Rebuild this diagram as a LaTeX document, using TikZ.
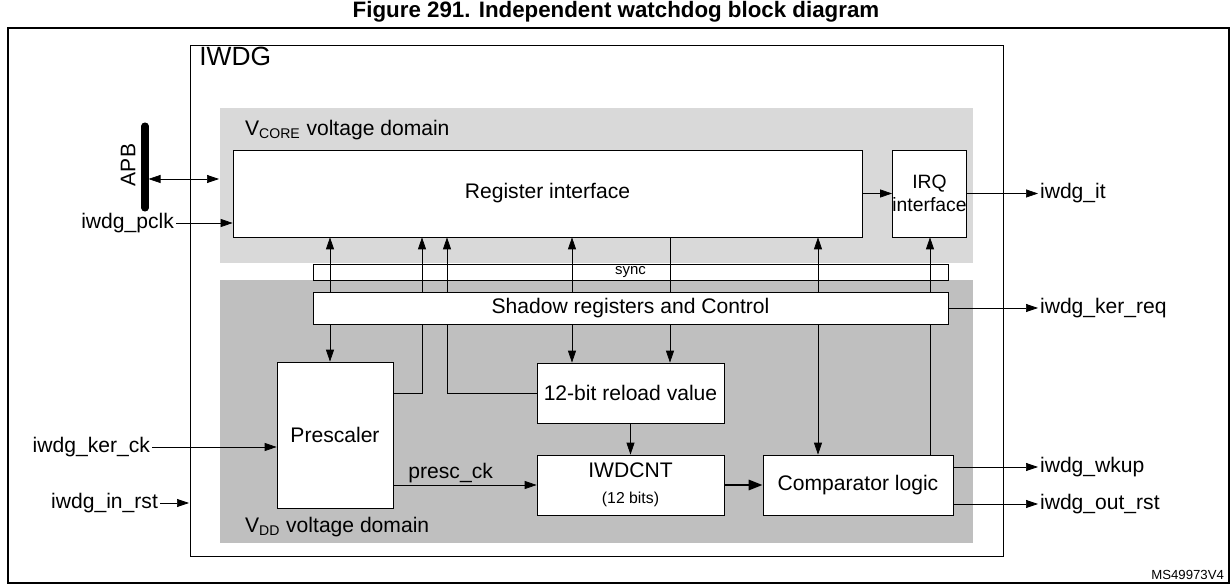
\documentclass[tikz,border=0pt]{standalone}
\usepackage{fontspec}
\setmainfont{Liberation Sans}
\setsansfont{Liberation Sans}
\usetikzlibrary{arrows.meta, positioning, calc}

\tikzset{
  blk/.style 2 args={draw, fill=white, minimum width=#1*0.02cm, minimum height=#2*0.02cm, inner sep=0pt, align=center},
  sig/.style={-{Triangle[length=0.24cm, width=0.16cm]}},
  lbl/.style={inner sep=1pt, font=\fontsize{12}{14}\selectfont},
}

\begin{document}
\begin{tikzpicture}[x=0.02cm, y=-0.02cm, font=\fontsize{12}{14}\selectfont]
  \useasboundingbox (0,0) rectangle (1232,584);

  % title and frames
  \node[font=\bfseries\fontsize{12.7}{14}\selectfont] (title) at (616,12) {Figure 291. Independent watchdog block diagram};
  \draw[line width=0.8pt] (8,28) rectangle (1229,583);
  \draw (190,45) rectangle (1003,556);
  \node[anchor=north west, inner sep=0pt, font=\fontsize{15}{17}\selectfont] (iwdg) at (199,47) {IWDG};
  \node[anchor=south east, inner sep=1pt, font=\fontsize{7.5}{9}\selectfont] (ms) at (1226,582) {MS49973V4};

  % voltage domains
  \fill[gray!30] (220,108) rectangle (973,263);
  \fill[gray!50] (220,280) rectangle (973,543);
  \node[anchor=west, lbl] (vcore) at (243,130) {V\textsubscript{\fontsize{8}{9}\selectfont CORE} voltage domain};
  \node[anchor=west, lbl] (vdd) at (243,527) {V\textsubscript{\fontsize{8}{9}\selectfont DD} voltage domain};

  % blocks
  \node[blk={629}{87}] (reg) at (547.5,193.5) {Register interface};
  \node[blk={65}{87}, font=\fontsize{11}{13}\selectfont] (irq) at (929.5,193.5) {IRQ\\interface};
  \node[blk={116}{146}] (presc) at (335,435) {Prescaler};
  \node[blk={187}{60}] (reload) at (630.5,393) {12-bit reload value};
  \node[blk={187}{60}] (cnt) at (630.5,485) {IWDCNT\\[1pt]{\fontsize{9}{10}\selectfont (12 bits)}};
  \node[blk={190}{60}] (comp) at (858,485) {Comparator logic};
  \node[blk={635}{16}, font=\fontsize{8.5}{9}\selectfont] (sync) at (630.5,272) {sync};

  \foreach \n/\x in {xa/330, xb/422, xc/447, xd/572, xe/670, xf/818, xg/930}
    \coordinate (\n) at (\x,0);

  % lines that run behind the shadow bar
  \draw[sig] (presc.east |- 0,393) -| (reg.south -| xb);
  \draw[sig] (reload.west) -| (reg.south -| xc);
  \draw[sig] (reg.south -| xe) -- (reload.north -| xe);
  \draw[sig] (comp.north -| xg) -- (irq.south -| xg);

  \node[blk={635}{32}] (shadow) at (630.5,308) {Shadow registers and Control};

  \foreach \c/\t in {xa/presc, xd/reload, xf/comp} {
    \draw[sig] (shadow.north -| \c) -- (reg.south -| \c);
    \draw[sig] (shadow.south -| \c) -- (\t.north -| \c);
  }

  % internal paths
  \draw[sig] (reg.east) -- (irq.west);
  \draw[sig] (reload.south) -- (cnt.north);
  \draw[sig] (presc.east |- cnt.west) -- node[above, pos=0.4, lbl] (presclk) {presc\_ck} (cnt.west);
  \draw[-{Triangle[length=0.28cm, width=0.2cm]}, line width=1.6pt] (cnt.east) -- (comp.west);

  % APB bus and inputs
  \coordinate (apbt) at (145,126);
  \coordinate (apbb) at (145,208);
  \draw[line width=4pt, line cap=round] (apbt) -- (apbb);
  \node[rotate=90, lbl] (apb) at (128,165) {APB};
  \coordinate (apbm) at (145,179);
  \coordinate (vcl) at (219,179);
  \draw[{Triangle[length=0.24cm, width=0.16cm]}-{Triangle[length=0.24cm, width=0.16cm]}] ([xshift=2pt]apbm) -- (vcl);
  \node[anchor=east, lbl] (pclk) at (176,223) {iwdg\_pclk};
  \draw[sig] (pclk.east) -- (reg.west |- pclk.east);
  \node[anchor=east, lbl] (kerck) at (152,447) {iwdg\_ker\_ck};
  \draw[sig] (kerck.east) -- (presc.west |- kerck.east);
  \node[anchor=east, lbl] (inrst) at (160,503) {iwdg\_in\_rst};
  \coordinate (iwdgl) at (189,503);
  \draw[sig] (inrst.east) -- (iwdgl);

  % outputs
  \node[anchor=west, lbl] (it) at (1038,193.5) {iwdg\_it};
  \draw[sig] (irq.east) -- (it.west);
  \node[anchor=west, lbl] (kerreq) at (1038,308) {iwdg\_ker\_req};
  \draw[sig] (shadow.east) -- (kerreq.west);
  \node[anchor=west, lbl] (wkup) at (1038,467) {iwdg\_wkup};
  \draw[sig] (comp.east |- wkup.west) -- (wkup.west);
  \node[anchor=west, lbl] (outrst) at (1038,504) {iwdg\_out\_rst};
  \draw[sig] (comp.east |- outrst.west) -- (outrst.west);
\end{tikzpicture}
\end{document}
